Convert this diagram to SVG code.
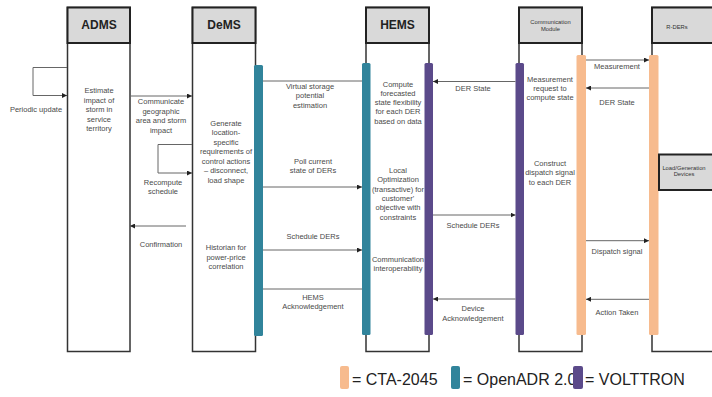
<svg xmlns="http://www.w3.org/2000/svg" width="712" height="397" viewBox="0 0 712 397">
<defs>
<style>
.box{fill:#fff;stroke:#333;stroke-width:1.5}
.hdr{fill:#d9d9d9;stroke:#222;stroke-width:2}
.ht{font-family:"Liberation Sans",Arial,sans-serif;font-weight:bold;font-size:12px;fill:#222;text-anchor:middle}
.hs{font-family:"Liberation Sans",Arial,sans-serif;font-size:5.8px;fill:#333;text-anchor:middle}
.t{font-family:"Liberation Sans",Arial,sans-serif;font-size:7.5px;fill:#4a4a4a;text-anchor:middle}
.c{fill:none;stroke:#666;stroke-width:1}
.ca{fill:none;stroke:#666;stroke-width:1;marker-end:url(#ah)}
.teal{fill:#31849b}
.purp{fill:#5b4a8a}
.orng{fill:#f7bb8e}
.lg{font-family:"Liberation Sans",Arial,sans-serif;font-size:16px;fill:#222}
</style>
<marker id="ah" markerUnits="userSpaceOnUse" markerWidth="5" markerHeight="5" refX="5" refY="2.5" orient="auto">
<path d="M0,0 L5,2.5 L0,5 z" fill="#222"/>
</marker>
</defs>
<rect width="712" height="397" fill="#fff"/>

<g id="adms">
<rect class="box" x="67.5" y="7.5" width="62.5" height="344"/>
<rect class="hdr" x="67.5" y="7.5" width="62.5" height="35.5"/>
<text class="ht" x="99" y="29">ADMS</text>
<text class="t"><tspan x="99" y="93">Estimate</tspan><tspan x="99" dy="9.5">impact of</tspan><tspan x="99" dy="9.5">storm in</tspan><tspan x="99" dy="9.5">service</tspan><tspan x="99" dy="9.5">territory</tspan></text>
</g>

<g id="dems">
<rect class="box" x="192.5" y="7.5" width="63" height="344"/>
<rect class="hdr" x="192.5" y="7.5" width="63" height="35.5"/>
<text class="ht" x="224" y="29">DeMS</text>
<rect class="teal" x="254" y="65" width="9" height="271" rx="1.5"/>
<text class="t"><tspan x="226" y="125.7">Generate</tspan><tspan x="226" dy="9.5">location-</tspan><tspan x="226" dy="9.5">specific</tspan><tspan x="226" dy="9.5">requirements of</tspan><tspan x="226" dy="9.5">control actions</tspan><tspan x="226" dy="9.5">– disconnect,</tspan><tspan x="226" dy="9.5">load shape</tspan></text>
<text class="t"><tspan x="226" y="249.7">Historian for</tspan><tspan x="226" dy="9.8">power-price</tspan><tspan x="226" dy="9.8">correlation</tspan></text>
</g>

<g id="hems">
<rect class="box" x="366" y="7.5" width="63" height="344"/>
<rect class="hdr" x="366" y="7.5" width="63" height="35.5"/>
<text class="ht" x="397.5" y="29">HEMS</text>
<rect class="teal" x="362" y="63" width="8.5" height="272" rx="1.5"/>
<rect class="purp" x="424.5" y="63" width="8.5" height="272" rx="1.5"/>
<text class="t"><tspan x="398" y="86.7">Compute</tspan><tspan x="398" dy="9.2">forecasted</tspan><tspan x="398" dy="9.2">state flexibility</tspan><tspan x="398" dy="9.2">for each DER</tspan><tspan x="398" dy="9.2">based on data</tspan></text>
<text class="t"><tspan x="398" y="172.7">Local</tspan><tspan x="398" dy="9.4">Optimization</tspan><tspan x="398" dy="9.4">(transactive) for</tspan><tspan x="398" dy="9.4">customer'</tspan><tspan x="398" dy="9.4">objective with</tspan><tspan x="398" dy="9.4">constraints</tspan></text>
<text class="t"><tspan x="398" y="261.7">Communication</tspan><tspan x="398" dy="9.5">interoperability</tspan></text>
</g>

<g id="comm">
<rect class="box" x="519" y="7.5" width="63" height="344"/>
<rect class="hdr" x="519" y="7.5" width="63" height="35.5"/>
<text class="hs"><tspan x="550.5" y="24">Communication</tspan><tspan x="550.5" dy="6.8">Module</tspan></text>
<rect class="purp" x="515.5" y="63" width="8.5" height="272" rx="1.5"/>
<rect class="orng" x="576.5" y="55" width="9.5" height="280" rx="1.5"/>
<text class="t"><tspan x="550" y="82.2">Measurement</tspan><tspan x="550" dy="8.8">request to</tspan><tspan x="550" dy="8.8">compute state</tspan></text>
<text class="t"><tspan x="550" y="165.7">Construct</tspan><tspan x="550" dy="9.4">dispatch signal</tspan><tspan x="550" dy="9.4">to each DER</tspan></text>
</g>

<g id="rders">
<rect class="box" x="652" y="7.5" width="70" height="344"/>
<rect class="hdr" x="652" y="7.5" width="70" height="35.5"/>
<text class="hs" x="677" y="28.5">R-DERs</text>
<rect class="orng" x="649" y="55" width="9.5" height="280" rx="1.5"/>
</g>

<g id="loadgen">
<rect class="hdr" x="659" y="154.5" width="60" height="35.5"/>
<text class="hs"><tspan x="684" y="170">Load/Generation</tspan><tspan x="684" dy="6.3">Devices</tspan></text>
</g>

<g id="connectors">
<path class="ca" d="M67,67.5 H33 V95.5 H67"/>
<path class="ca" d="M130,96 H192"/>
<path class="ca" d="M192,144.5 H158 V173 H192"/>
<path class="ca" d="M186,226 H130"/>
<path class="c" d="M263,81 H362"/>
<path class="ca" d="M263,187 H362"/>
<path class="ca" d="M263,250 H362"/>
<path class="c" d="M263,289 H362"/>
<path class="ca" d="M515.5,81.5 H433"/>
<path class="ca" d="M433,215 H515.5"/>
<path class="ca" d="M515.5,299 H433"/>
<path class="ca" d="M586,60 H649"/>
<path class="ca" d="M649,88 H586"/>
<path class="ca" d="M586,240.7 H649"/>
<path class="ca" d="M649,299.3 H586"/>
</g>

<g id="labels">
<text class="t" x="36" y="111.5">Periodic update</text>
<text class="t"><tspan x="161" y="104.4">Communicate</tspan><tspan x="161" dy="9.5">geographic</tspan><tspan x="161" dy="9.5">area and storm</tspan><tspan x="161" dy="9.5">impact</tspan></text>
<text class="t"><tspan x="163" y="184.7">Recompute</tspan><tspan x="163" dy="9">schedule</tspan></text>
<text class="t" x="161" y="247.4">Confirmation</text>
<text class="t"><tspan x="310" y="88.7">Virtual storage</tspan><tspan x="310" dy="9.5">potential</tspan><tspan x="310" dy="9.5">estimation</tspan></text>
<text class="t"><tspan x="313" y="163.7">Poll current</tspan><tspan x="313" dy="9.4">state of DERs</tspan></text>
<text class="t" x="313" y="238.7">Schedule DERs</text>
<text class="t"><tspan x="313" y="300.4">HEMS</tspan><tspan x="313" dy="9">Acknowledgement</tspan></text>
<text class="t" x="473" y="90.7">DER State</text>
<text class="t" x="473" y="228.4">Schedule DERs</text>
<text class="t"><tspan x="473" y="310.7">Device</tspan><tspan x="473" dy="9.8">Acknowledgement</tspan></text>
<text class="t" x="617" y="69.4">Measurement</text>
<text class="t" x="617" y="104.7">DER State</text>
<text class="t" x="617" y="254.4">Dispatch signal</text>
<text class="t" x="617" y="315.4">Action Taken</text>
</g>

<g id="legend">
<rect class="orng" x="340" y="366" width="9" height="23" rx="2"/>
<text class="lg" x="352" y="385">= CTA-2045</text>
<rect class="teal" x="451" y="366" width="9" height="23" rx="2"/>
<text class="lg" x="463" y="385">= OpenADR 2.0</text>
<rect class="purp" x="573" y="366" width="10" height="23" rx="2"/>
<text class="lg" x="585" y="385">= VOLTTRON</text>
</g>
</svg>
